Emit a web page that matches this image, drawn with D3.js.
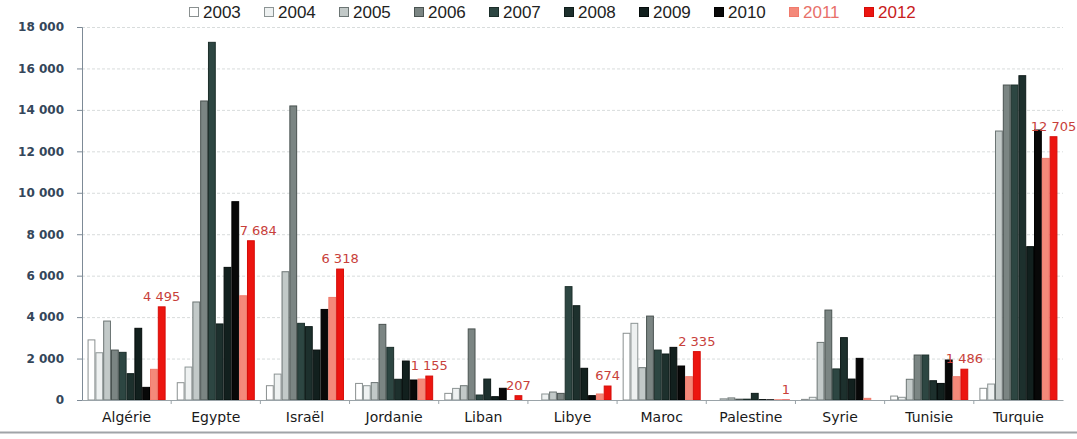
<!DOCTYPE html>
<html>
<head>
<meta charset="utf-8">
<script src="https://cdn.jsdelivr.net/npm/d3@7"></script>
<style>
  html, body { margin: 0; padding: 0; background: #fff; }
  svg { display: block; }
</style>
</head>
<body>
<svg id="chart" width="1077" height="439"></svg>
<script>
// Pays et années
const countries = ["Algérie", "Egypte", "Israël", "Jordanie", "Liban", "Libye", "Maroc", "Palestine", "Syrie", "Tunisie", "Turquie"];
const years = ["2003", "2004", "2005", "2006", "2007", "2008", "2009", "2010", "2011", "2012"];

// Valeurs annuelles par pays (même ordre que countries)
const v2003 = [2900, 835, 690, 800, 320, 0, 3220, 0, 30, 190, 565];
const v2004 = [2280, 1590, 1250, 690, 560, 290, 3700, 60, 130, 130, 770];
const v2005 = [3810, 4730, 6190, 840, 690, 385, 1560, 100, 2780, 1000, 12980];
const v2006 = [2410, 14430, 14190, 3650, 3430, 320, 4050, 40, 4340, 2170, 15200];
const v2007 = [2300, 17260, 3700, 2540, 240, 5470, 2410, 40, 1500, 2170, 15200];
const v2008 = [1270, 3670, 3540, 1000, 1010, 4550, 2220, 320, 3010, 930, 15650];
const v2009 = [3460, 6400, 2410, 1880, 160, 1530, 2540, 20, 1010, 800, 7400];
const v2010 = [610, 9570, 4370, 965, 565, 210, 1640, 10, 2010, 1930, 13030];
const v2011 = [1480, 5030, 4950, 1010, 0, 290, 1125, 10, 80, 1125, 11660];
const v2012 = [4495, 7684, 6318, 1155, 207, 674, 2335, 1, 0, 1486, 12705];

const yTicks = [0, 2000, 4000, 6000, 8000, 10000, 12000, 14000, 16000, 18000];

const series = [v2003, v2004, v2005, v2006, v2007, v2008, v2009, v2010, v2011, v2012];

// Styles par année
const fills   = ["#ffffff", "#eef1f1", "#c2c9c8", "#7b8583", "#2d4642", "#1d302d", "#12201e", "#080808", "#f4897a", "#ec1510"];
const strokes = ["#8a9090", "#8c9494", "#6c7574", "#4a5351", "#1c2e2a", "#0f1c1a", "#050c0b", "#000000", "#f07a6c", "#d60d08"];
const legendText = ["#222", "#222", "#222", "#222", "#222", "#222", "#222", "#222", "#e8706a", "#c8201c"];

const fr = d3.formatLocale({ decimal: ",", thousands: "\u00a0", grouping: [3], currency: ["", " €"] });
const fmt = fr.format(",d");

const svg = d3.select("#chart");
const plotLeft = 82, plotRight = 1063, plotTop = 27, plotBottom = 400;

const x0 = d3.scaleBand().domain(countries).range([plotLeft, plotRight]).paddingInner(0.125).paddingOuter(0.0625);
const x1 = d3.scaleBand().domain(years).range([0, x0.bandwidth()]);
const y = d3.scaleLinear().domain([0, 18000]).range([plotBottom, plotTop]);

// Quadrillage
svg.append("g")
  .selectAll("line")
  .data(yTicks.filter(t => t > 0))
  .join("line")
  .attr("x1", plotLeft).attr("x2", plotRight)
  .attr("y1", d => y(d) + 0.5).attr("y2", d => y(d) + 0.5)
  .attr("stroke", "#d8dcdc")
  .attr("stroke-dasharray", "3,2");

// Barres
const groups = svg.append("g")
  .selectAll("g")
  .data(countries)
  .join("g")
  .attr("transform", d => `translate(${x0(d)},0)`);

groups.selectAll("rect")
  .data((c, i) => years.map((yr, j) => ({ yr, j, v: series[j][i] })).filter(d => d.v > 0))
  .join("rect")
  .attr("x", d => x1(d.yr) + 0.5)
  .attr("width", x1.bandwidth() - 1)
  .attr("y", d => y(d.v))
  .attr("height", d => plotBottom - y(d.v))
  .attr("fill", d => fills[d.j])
  .attr("stroke", d => strokes[d.j])
  .attr("stroke-width", 1);

// Étiquettes 2012 : centrées sur la barre, décalées à droite si la barre 2010 les masque
const labelFont = "DejaVu Sans, Verdana, sans-serif";
groups.append("text")
  .datum((c, i) => ({ v: v2012[i], prev: v2010[i] }))
  .attr("y", d => y(d.v) - 6)
  .attr("font-family", labelFont)
  .attr("font-size", 13)
  .attr("fill", "#c8403a")
  .text(d => d.v > 0 ? fmt(d.v) : "")
  .each(function (d) {
    const t = d3.select(this);
    const w = this.getComputedTextLength();
    const center = x1("2012") + x1.bandwidth() / 2;
    const covered = y(d.prev) < y(d.v) - 6 - 14;
    const startAfter = x1("2010") + x1.bandwidth() + 0.5;
    const x = covered ? Math.max(center - w / 2, startAfter) : center - w / 2;
    t.attr("x", x);
  });

// Axe Y
const yAxis = d3.axisLeft(y).tickValues(yTicks).tickSize(5).tickPadding(13).tickFormat(fmt);
const gy = svg.append("g").attr("transform", `translate(${plotLeft},0)`).call(yAxis);
gy.select(".domain").attr("stroke", "#7d8a96");
gy.selectAll(".tick line").attr("stroke", "#7d8a96");
gy.selectAll(".tick text")
  .attr("font-family", labelFont)
  .attr("font-size", 12)
  .attr("font-weight", "bold")
  .attr("fill", "#34465a");

// Axe X
const xAxis = d3.axisBottom(x0).tickSize(0).tickPadding(12);
const gx = svg.append("g").attr("transform", `translate(0,${plotBottom})`).call(xAxis);
gx.select(".domain").attr("stroke", "#9aa3a8");
gx.selectAll(".tick text")
  .attr("font-family", labelFont)
  .attr("font-size", 14)
  .attr("fill", "#1a1a1a");

// Séparateurs de catégories
svg.append("g")
  .selectAll("line")
  .data(countries.slice(1))
  .join("line")
  .attr("x1", d => x0(d) - x0.step() * x0.paddingInner() / 2)
  .attr("x2", d => x0(d) - x0.step() * x0.paddingInner() / 2)
  .attr("y1", plotBottom).attr("y2", plotBottom + 4)
  .attr("stroke", "#9aa3a8");

// Légende
const legend = svg.append("g")
  .selectAll("g")
  .data(years)
  .join("g")
  .attr("transform", (d, i) => `translate(${189 + i * 75},0)`);

legend.append("rect")
  .attr("x", 0.5).attr("y", 7.5)
  .attr("width", 9).attr("height", 9)
  .attr("fill", (d, i) => fills[i])
  .attr("stroke", (d, i) => strokes[i]);

legend.append("text")
  .attr("x", 14).attr("y", 18)
  .attr("font-family", "Liberation Sans, Arial, sans-serif")
  .attr("font-size", 17)
  .attr("fill", (d, i) => legendText[i])
  .text(d => d);

// Cadre inférieur
svg.append("line")
  .attr("x1", 0).attr("x2", 1077)
  .attr("y1", 432.5).attr("y2", 432.5)
  .attr("stroke", "#a0a4a8")
  .attr("stroke-width", 2);
</script>
</body>
</html>
